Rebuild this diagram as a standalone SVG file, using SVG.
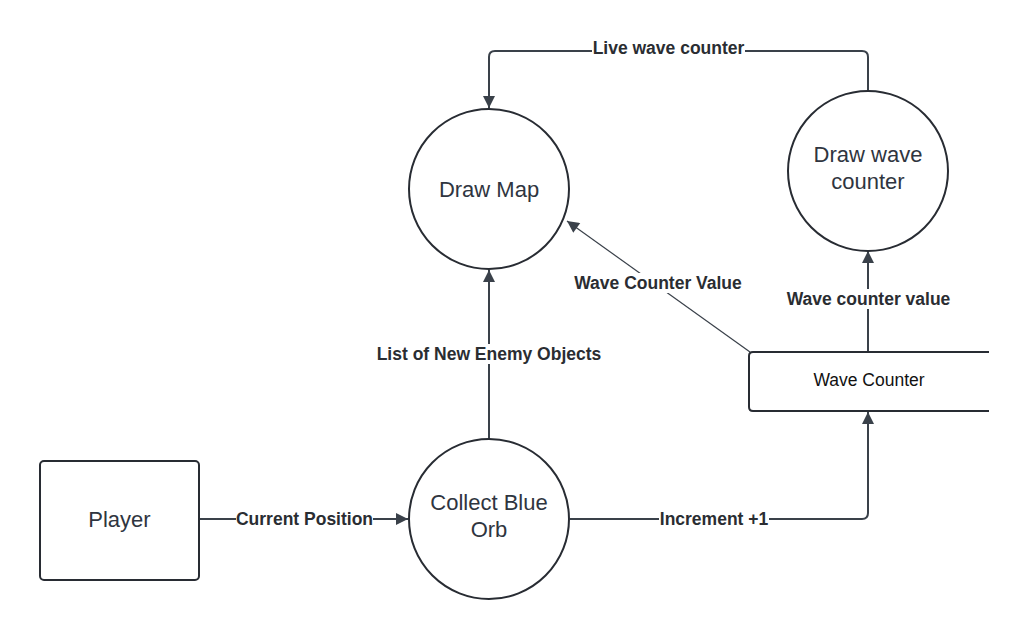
<svg xmlns="http://www.w3.org/2000/svg" width="1029" height="640" viewBox="0 0 1029 640">
<style>
.node{fill:#fff;stroke:#282c33;stroke-width:2}
.t{font-family:"Liberation Sans",Arial,sans-serif;font-size:22px;fill:#2f3540;text-anchor:middle}
.c{fill:none;stroke:#3a414a;stroke-width:2}
.thin{stroke-width:1.2}
.lbl{font-family:"Liberation Sans",Arial,sans-serif;font-size:17.5px;font-weight:bold;fill:#2a2d32;text-anchor:middle}
.bg{fill:#fff}
</style>
<defs>
<marker id="ah2" viewBox="0 0 10 10" refX="10" refY="5" markerWidth="14" markerHeight="12" markerUnits="userSpaceOnUse" orient="auto">
<path d="M0,0 L10,5 L0,10 z" fill="#3a414a"/>
</marker>
</defs>
<rect width="1029" height="640" fill="#fff"/>
<g id="connectors">
<path class="c" d="M200,519 H408" marker-end="url(#ah2)"/>
<path class="c" d="M489,439 V270" marker-end="url(#ah2)"/>
<path class="c" d="M570,519 H862 Q868,519 868,513 V412" marker-end="url(#ah2)"/>
<path class="c" d="M868,352 V251" marker-end="url(#ah2)"/>
<path class="c thin" d="M750,352 L567,221" marker-end="url(#ah2)"/>
<path class="c" d="M868,91 V57 Q868,51 862,51 H495 Q489,51 489,57 V108" marker-end="url(#ah2)"/>
<rect class="bg" x="236" y="509" width="137" height="20"/>
<text class="lbl" x="304.5" y="525">Current Position</text>
<rect class="bg" x="376" y="344" width="226" height="20"/>
<text class="lbl" x="489" y="360">List of New Enemy Objects</text>
<rect class="bg" x="659" y="509" width="110" height="20"/>
<text class="lbl" x="714" y="525">Increment +1</text>
<rect class="bg" x="786" y="289" width="165" height="20"/>
<text class="lbl" x="868.5" y="305">Wave counter value</text>
<rect class="bg" x="573" y="273" width="170" height="20"/>
<text class="lbl" x="658" y="289">Wave Counter Value</text>
<rect class="bg" x="592" y="39" width="153" height="20"/>
<text class="lbl" x="668.5" y="54">Live wave counter</text>
</g>
<g id="draw-map">
<circle class="node" cx="489" cy="189" r="80"/>
<text class="t" x="489" y="197">Draw Map</text>
</g>
<g id="draw-wave-counter">
<circle class="node" cx="868" cy="171" r="80"/>
<text class="t" x="868" y="162">Draw wave</text>
<text class="t" x="868" y="189">counter</text>
</g>
<g id="collect-blue-orb">
<circle class="node" cx="489" cy="519" r="80"/>
<text class="t" x="489" y="510">Collect Blue</text>
<text class="t" x="489" y="537">Orb</text>
</g>
<g id="player">
<rect class="node" x="40" y="461" width="159" height="119" rx="4"/>
<text class="t" x="119.5" y="527">Player</text>
</g>
<g id="wave-counter">
<path fill="#fff" d="M749,356 Q749,352 753,352 H989 V411 H753 Q749,411 749,407 Z"/>
<path class="node" fill="none" d="M989,352 H753 Q749,352 749,356 V407 Q749,411 753,411 H989"/>
<text class="t" x="869" y="386" style="font-size:17.5px;fill:#111">Wave Counter</text>
</g>
</svg>
